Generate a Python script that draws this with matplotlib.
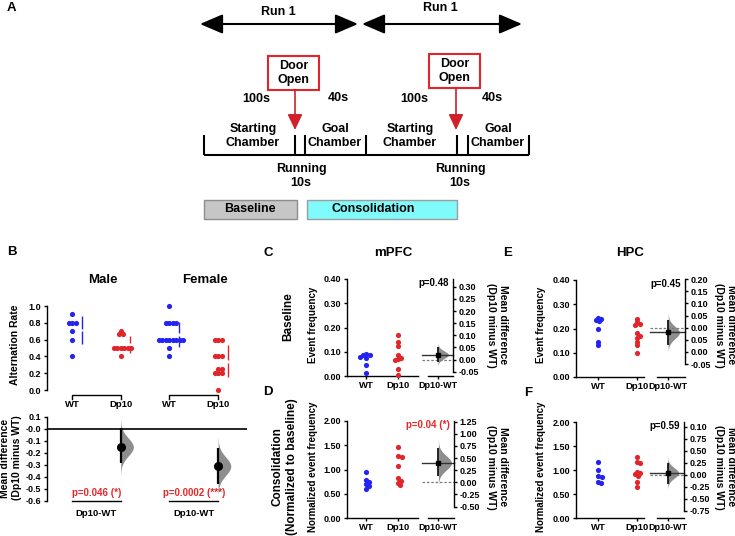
"""
Alternation rate and calcium event frequency figure (panels A-F)
"""
import numpy as np
import matplotlib
matplotlib.use("Agg")
import matplotlib.pyplot as plt
import matplotlib.transforms as mtransforms
from matplotlib.patches import Rectangle, FancyArrowPatch

W, H = 735, 536

plt.rcParams["font.family"] = ["Liberation Sans", "DejaVu Sans"]
plt.rcParams["font.weight"] = "bold"
plt.rcParams["axes.unicode_minus"] = False
plt.rcParams["axes.linewidth"] = 1.0
plt.rcParams["xtick.major.width"] = 1.0
plt.rcParams["ytick.major.width"] = 1.0
plt.rcParams["xtick.major.size"] = 2.2
plt.rcParams["ytick.major.size"] = 2.2
plt.rcParams["xtick.labelsize"] = 6.8
plt.rcParams["ytick.labelsize"] = 6.5

BLUE = "#2424f2"
RED = "#e0262b"
PRED = "#e8262a"
VIOLIN = "#8e8e8e"

# ---------------- data ----------------
# panel B: alternation rate
b_labels = ["WT", "Dp10", "WT", "Dp10"]
male_wt = [0.9, 0.8, 0.8, 0.8, 0.7, 0.6, 0.4]
male_dp10 = [0.7, 0.67, 0.67, 0.5, 0.5, 0.5, 0.5, 0.5, 0.5, 0.4]
female_wt = [1.0, 0.8, 0.8, 0.8, 0.8, 0.6, 0.6, 0.6, 0.6, 0.6, 0.6, 0.6, 0.6, 0.5, 0.4]
female_dp10 = [0.6, 0.6, 0.6, 0.4, 0.4, 0.4, 0.25, 0.25, 0.2, 0.2, 0.2, 0.0]
b_diff = [-0.15, -0.31]
b_ci_low = [-0.28, -0.46]
b_ci_high = [0.01, -0.16]
b_pvals = ["p=0.046 (*)", "p=0.0002 (***)"]

# panels C-F: event frequency (WT vs Dp10) and mean difference
c_wt = [0.09, 0.088, 0.085, 0.08, 0.075, 0.045, 0.012]
c_dp10 = [0.168, 0.14, 0.122, 0.085, 0.075, 0.07, 0.065, 0.028, 0.003]
c_diff, c_ci = 0.02, (-0.01, 0.05)
c_dticks = [0.30, 0.25, 0.20, 0.15, 0.10, 0.05, 0.00, -0.05]
c_dlabels = ["0.30", "0.25", "0.20", "0.15", "0.10", "0.05", "0.00", "-0.05"]

d_wt = [0.95, 0.78, 0.74, 0.70, 0.65, 0.60]
d_dp10 = [1.46, 1.28, 1.26, 1.07, 0.82, 0.77, 0.73, 0.68]
d_diff, d_ci = 0.40, (0.12, 0.70)
d_dticks = [1.25, 1.00, 0.75, 0.50, 0.25, 0.00, -0.25, -0.50]
d_dlabels = ["1.25", "1.00", "0.75", "0.50", "0.25", "0.00", "-0.25", "-0.50"]

e_wt = [0.245, 0.24, 0.235, 0.23, 0.20, 0.145, 0.13]
e_dp10 = [0.24, 0.225, 0.22, 0.215, 0.18, 0.17, 0.16, 0.145, 0.13, 0.10]
e_diff, e_ci = -0.02, (-0.07, 0.03)
e_dticks = [0.20, 0.15, 0.10, 0.05, 0.00, -0.05, -0.10, -0.15]
e_dlabels = ["0.20", "0.15", "0.10", "0.05", "0.00", "0.05", "0.00", "-0.05"]

f_wt = [1.17, 1.0, 0.88, 0.86, 0.76, 0.72]
f_dp10 = [1.28, 1.17, 1.14, 0.96, 0.93, 0.91, 0.88, 0.76, 0.64]
f_diff, f_ci = 0.04, (-0.18, 0.24)
f_dticks = [1.00, 0.75, 0.50, 0.25, 0.00, -0.25, -0.50, -0.75]
f_dlabels = ["0.10", "0.75", "0.50", "0.25", "0.00", "-0.25", "-0.50", "-0.75"]


fig = plt.figure(figsize=(W / 100, H / 100), dpi=100)
ov = fig.add_axes([0, 0, 1, 1])
ov.set_xlim(0, W)
ov.set_ylim(H, 0)
ov.axis("off")


def px_axes(x0, y0, x1, y1):
    ax = fig.add_axes([x0 / W, 1 - y1 / H, (x1 - x0) / W, (y1 - y0) / H])
    ax.patch.set_visible(False)
    return ax


def swarm(vals, ppu, ppi, d=3.2):
    """horizontal offsets (category units) so that dots d px apart don't stack"""
    placed, offs = [], []
    steps = [0.0] + [s * k * 0.5 for k in range(1, 60) for s in (1, -1)]
    for v in vals:
        y = v * ppu
        for x in steps:
            if all((x - a) ** 2 + (y - b) ** 2 >= d * d for a, b in placed):
                break
        placed.append((x, y))
        offs.append(x / ppi)
    return np.array(offs)


def half_violin(ax, x, mean, lo, hi, width):
    sd = (hi - lo) / 3.92
    y = np.linspace(mean - 3.2 * sd, mean + 3.2 * sd, 150)
    dens = np.exp(-0.5 * ((y - mean) / sd) ** 2)
    ax.fill_betweenx(y, x, x + width * dens, color=VIOLIN, lw=0, zorder=1)


# ---------------- panel A ----------------
TA = dict(fontsize=9, ha="center", va="center")
ov.text(7, 8, "A", fontsize=9.5, ha="left", va="center")
for x0, x1, ty, tx in [(200, 358, 12, 278), (362, 522, 8, 440)]:
    ov.add_patch(FancyArrowPatch((x0, 24), (x1, 24),
                                 arrowstyle="<|-|>,head_length=1.4,head_width=0.6",
                                 mutation_scale=10, lw=1.5, color="black",
                                 shrinkA=0, shrinkB=0))
    ov.text(tx, ty, "Run 1", **TA)

for bx, by, ax_x in [(268, 56, 295), (429, 54, 456)]:
    ov.add_patch(Rectangle((bx, by), 51, 34, fill=False, ec=RED, lw=1.5))
    ov.text(bx + 25.5, by + 17, "Door\nOpen", linespacing=1.25, **TA)
    ov.add_patch(FancyArrowPatch((ax_x, by + 34), (ax_x, 130),
                                 arrowstyle="-|>,head_length=0.95,head_width=0.45",
                                 mutation_scale=10, lw=1.2, color="#d0202a",
                                 shrinkA=0, shrinkB=0))

for tx, ty, s in [(256, 99, "100s"), (338, 98, "40s"), (414, 99, "100s"), (492, 98, "40s")]:
    ov.text(tx, ty, s, **TA)
for tx, s in [(253, "Starting\nChamber"), (335, "Goal\nChamber"),
              (410, "Starting\nChamber"), (498, "Goal\nChamber")]:
    ov.text(tx, 136, s, linespacing=1.2, **TA)
for tx in (301, 460):
    ov.text(tx, 176, "Running\n10s", linespacing=1.2, **TA)

ov.plot([204, 529], [155, 155], color="black", lw=1.5, solid_capstyle="butt")
ov.vlines([204, 295, 305, 366, 457, 468, 529], 135, 155, color="black", lw=1.5)

ov.add_patch(Rectangle((204, 200), 93, 19, fc="#c6c6c6", ec="#8c8c8c", lw=1))
ov.text(250, 209.5, "Baseline", **TA)
ov.add_patch(Rectangle((307, 200), 150, 19, fc="#80fbfb", ec="#9c9c9c", lw=1))
ov.text(373, 209.5, "Consolidation", **TA)

# ---------------- panel B ----------------
ov.text(7, 252, "B", fontsize=9.5, ha="left", va="center")
ov.text(103, 280, "Male", fontsize=9.5, ha="center", va="center")
ov.text(205, 280, "Female", fontsize=9.5, ha="center", va="center")
ov.text(15, 345, "Alternation Rate", fontsize=7.5, rotation=90, ha="center", va="center")
ov.text(11, 458, "Mean difference\n(Dp10 minus WT)", fontsize=7.5, rotation=90,
        ha="center", va="center", linespacing=1.15)

b_ppi = 48.7   # px per category
b_ppu = 84.0   # px per unit, top plot
b_xlim = ((47 - 72) / b_ppi, (247 - 72) / b_ppi)

axB = px_axes(47, 300, 247, 390)
axB.set_ylim(0, 90 / b_ppu)
axB.set_xlim(*b_xlim)
for s in ("top", "right", "bottom"):
    axB.spines[s].set_visible(False)
axB.spines["left"].set_bounds(0, 1)
axB.set_yticks(np.round(np.arange(0, 1.01, 0.2), 1))
axB.set_yticklabels([f"{v:.1f}" for v in np.arange(0, 1.01, 0.2)])
axB.set_xticks(range(4))
axB.set_xticklabels(b_labels)
axB.tick_params(axis="x", length=0, pad=7)
axB.tick_params(axis="y", pad=2)

groups = [male_wt, male_dp10, female_wt, female_dp10]
cols = [BLUE, RED, BLUE, RED]
for i, (vals, col) in enumerate(zip(groups, cols)):
    vals = np.array(vals)
    axB.scatter(i + swarm(vals, b_ppu, b_ppi), vals, s=14, color=col, lw=0,
                clip_on=False, zorder=3)
    m, sd = vals.mean(), vals.std(ddof=1)
    axB.vlines([i + 0.2, i + 0.2], [m - sd, m + 0.015], [m - 0.015, m + sd],
               color=col, lw=1)
for g in (0, 2):
    axB.plot([g, g, g + 1, g + 1], [-9 / b_ppu, -5 / b_ppu, -5 / b_ppu, -9 / b_ppu],
             color="black", lw=1, clip_on=False)

bd_ppu = 120.0
axBd = px_axes(47, 405, 247, 501)
axBd.set_ylim(-0.6, -0.6 + 96 / bd_ppu)
axBd.set_xlim(*b_xlim)
for s in ("top", "right", "bottom"):
    axBd.spines[s].set_visible(False)
axBd.spines["left"].set_bounds(-0.6, 0.1)
bd_ticks = np.round(np.arange(-0.6, 0.11, 0.1), 1)
axBd.set_yticks(bd_ticks)
axBd.set_yticklabels([f"{v:.1f}" for v in bd_ticks])
axBd.set_xticks([0.5, 2.5])
axBd.set_xticklabels(["Dp10-WT", "Dp10-WT"])
axBd.tick_params(axis="x", length=0, pad=6)
axBd.tick_params(axis="y", pad=2)
axBd.axhline(0, color="black", lw=1.2)
for j in range(2):
    x = 2 * j + 1
    half_violin(axBd, x, b_diff[j], b_ci_low[j], b_ci_high[j], 0.26)
    axBd.vlines(x, b_ci_low[j], b_ci_high[j], color="black", lw=1.6, zorder=3)
    axBd.plot(x, b_diff[j], "o", color="black", ms=5.5, zorder=4)
    axBd.plot([2 * j, 2 * j + 1], [-0.6, -0.6], color="black", lw=1, clip_on=False)
    axBd.text(2 * j + 0.5, -0.533, b_pvals[j], color=PRED, fontsize=7,
              ha="center", va="center")


# ---------------- panels C-F ----------------
def event_panel(wt, dp, diff, ci, box, wt_px, ppi, dx, ymax, yticks, dticks, dlabels,
                ptext, pcol, vwidth):
    x0, y0, x1, y1 = box
    ppu = (y1 - y0) / ymax
    top = ymax + 4 / ppu
    ax = px_axes(x0, y0 - 4, x1, y1)
    ax.set_ylim(0, top)
    ax.set_xlim((x0 - wt_px) / ppi, (x1 - wt_px) / ppi)
    ax.spines["top"].set_visible(False)
    ax.spines["right"].set_visible(False)
    ax.spines["left"].set_bounds(0, ymax)
    ax.set_yticks(yticks)
    ax.set_yticklabels([f"{v:.2f}" for v in yticks])
    ax.set_xticks([0, 1])
    ax.set_xticklabels(["WT", "Dp10"])
    ax.tick_params(axis="x", pad=1.5)
    ax.tick_params(axis="y", pad=2)
    for i, (vals, col) in enumerate([(wt, BLUE), (dp, RED)]):
        vals = np.array(vals)
        ax.scatter(i + swarm(vals, ppu, ppi), vals, s=14, color=col, lw=0,
                   clip_on=False, zorder=3)

    m = np.mean(wt)
    d0, d1 = dx
    axd = px_axes(d0, y0 - 4, d1, y1)
    axd.set_ylim(-m, top - m)
    axd.set_xlim(-0.4, 0.6)
    axd.spines["top"].set_visible(False)
    axd.spines["left"].set_visible(False)
    axd.spines["right"].set_bounds(min(dticks), max(ymax - m, max(dticks)))
    axd.yaxis.tick_right()
    axd.set_yticks(dticks)
    axd.set_yticklabels(dlabels)
    axd.set_xticks([0])
    axd.set_xticklabels(["Dp10-WT"])
    axd.tick_params(axis="x", pad=1.5, labelsize=6.5)
    axd.tick_params(axis="y", pad=2)
    trans = mtransforms.blended_transform_factory(axd.transAxes, axd.transData)
    axd.plot([-0.25, 1], [0, 0], transform=trans, color="#7a7a7a", lw=0.9,
             ls=(0, (2, 1.5)), clip_on=False, zorder=2)
    axd.plot([-0.25, 1], [diff, diff], transform=trans, color="#333333", lw=1,
             clip_on=False, zorder=2)
    half_violin(axd, 0, diff, ci[0], ci[1], vwidth)
    axd.vlines(0, ci[0], ci[1], color="black", lw=1.2, zorder=3)
    axd.plot(0, diff, "s", color="black", ms=3.5, zorder=4)
    ov.text(d1 - 4, y0 + 4, ptext, color=pcol, fontsize=7, ha="right", va="center")


event_panel(c_wt, c_dp10, c_diff, c_ci, (347, 279, 418, 376), 366, 32, (428, 453),
            0.40, np.round(np.arange(0, 0.41, 0.1), 2), c_dticks, c_dlabels,
            "p=0.48", "black", 0.42)
event_panel(d_wt, d_dp10, d_diff, d_ci, (347, 421, 418, 518), 366, 32, (428, 454),
            2.0, np.round(np.arange(0, 2.01, 0.5), 2), d_dticks, d_dlabels,
            "p=0.04 (*)", PRED, 0.5)
event_panel(e_wt, e_dp10, e_diff, e_ci, (576, 280, 644, 377), 598, 39, (657, 685),
            0.40, np.round(np.arange(0, 0.41, 0.1), 2), e_dticks, e_dlabels,
            "p=0.45", "black", 0.4)
event_panel(f_wt, f_dp10, f_diff, f_ci, (576, 422, 644, 518), 598, 39, (657, 684),
            2.0, np.round(np.arange(0, 2.01, 0.5), 2), f_dticks, f_dlabels,
            "p=0.59", "black", 0.4)

# panel letters, titles and axis labels
for x, y, s in [(268, 253, "C"), (268, 392, "D"), (508, 253, "E"), (528, 393, "F")]:
    ov.text(x, y, s, fontsize=9.5, ha="center", va="center")
ov.text(393, 253, "mPFC", fontsize=9.5, ha="center", va="center")
ov.text(630, 253, "HPC", fontsize=9.5, ha="center", va="center")

ov.text(288, 317, "Baseline", fontsize=8.5, rotation=90, ha="center", va="center")
ov.text(285, 467, "Consolidation\n(Normalized to baseline)", fontsize=8.5, rotation=90,
        ha="center", va="center", linespacing=1.3)
for x in (313, 541):
    ov.text(x, 325, "Event frequency", fontsize=7, rotation=90, ha="center", va="center")
    ov.text(x, 467, "Normalized event frequency", fontsize=7, rotation=90,
            ha="center", va="center")
for x in (497, 725):
    for y in (325, 467):
        ov.text(x, y, "Mean difference\n(Dp10 minus WT)", fontsize=7.5, rotation=270,
                ha="center", va="center", linespacing=1.15)

fig.savefig("out.png", dpi=100)
